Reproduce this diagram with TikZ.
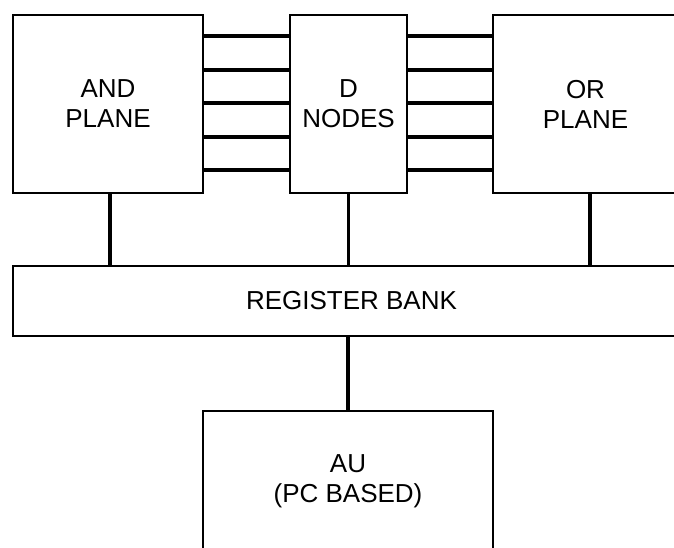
\documentclass[tikz,border=0pt]{standalone}
\usepackage{fontspec}
\setmainfont{Liberation Sans}
\usepackage{tikz}

\begin{document}
\begin{tikzpicture}[x=1pt, y=-1pt,
    block/.style={draw, line width=2pt, align=center, inner sep=0pt, font=\fontsize{26}{30}\selectfont},
    bus/.style={line width=3.4pt}]
    \useasboundingbox (0,0) rectangle (674,548);

    \node[block, minimum width=190pt, minimum height=178pt] (andp) at (108,104) {AND\\PLANE};
    \node[block, minimum width=117pt, minimum height=178pt] (dnodes) at (348.5,104) {D\\NODES};
    \node[block, minimum width=185pt, minimum height=178pt] (orp) at (585.5,104) {OR\\PLANE};

    \node[block, minimum width=677pt, minimum height=70pt] (reg) at (351.5,301) {REGISTER BANK};
    \node[block, minimum width=290pt, minimum height=141pt] (au) at (348,481.5) {AU\\(PC BASED)};

    % lines between the planes and the D nodes
    \foreach \y in {36,70,103,137,170} {
        \draw[bus] (andp.east |- 0,\y) -- (dnodes.west |- 0,\y);
        \draw[bus] (dnodes.east |- 0,\y) -- (orp.west |- 0,\y);
    }

    \draw[bus] ([xshift=2pt]andp.south) -- ([xshift=2pt]andp.south |- reg.north);
    \draw[bus] (dnodes.south) -- (dnodes.south |- reg.north);
    \draw[bus] ([xshift=4.5pt]orp.south) -- ([xshift=4.5pt]orp.south |- reg.north);
    \draw[bus] (reg.south -| au.north) -- (au.north);
\end{tikzpicture}
\end{document}
